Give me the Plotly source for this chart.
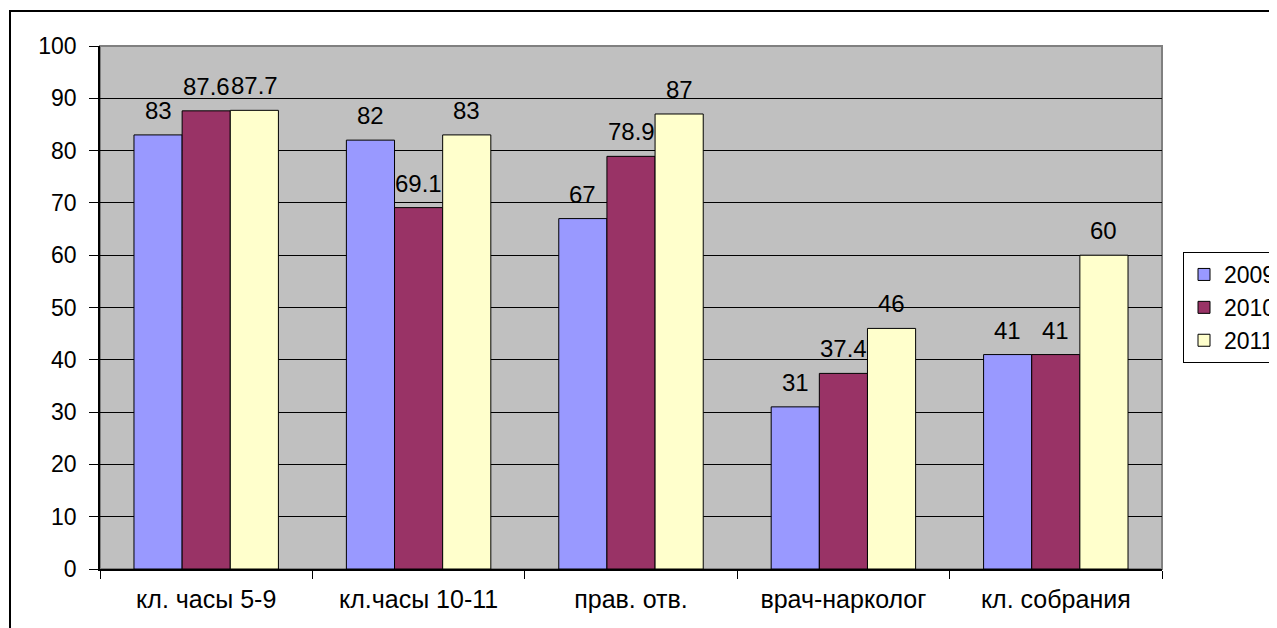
import plotly.graph_objects as go

categories = ["кл. часы 5-9", "кл.часы 10-11", "прав. отв.", "врач-нарколог", "кл. собрания"]
years = ["2009", "2010", "2011"]
v2009 = [83, 82, 67, 31, 41]
v2010 = [87.6, 69.1, 78.9, 37.4, 41]
v2011 = [87.7, 83, 87, 46, 60]
colors = ["#9999FF", "#993366", "#FFFFCC"]
yticks = list(range(0, 101, 10))

W, H = 1277, 628
OFF = 8  # page body margin
L, R, T, B = 100 - OFF, 1162 - OFF, 46 - OFF, 569 - OFF
FS = 23
BARGAP = 0.32

fig = go.Figure()
series = [v2009, v2010, v2011]
for name, vals, col in zip(years, series, colors):
    fig.add_trace(go.Bar(
        x=categories, y=vals, name=name,
        marker=dict(color=col, line=dict(color="black", width=1)),
    ))

pw, ph = R - L, B - T
def px(x):
    return (x - OFF - L) / pw
def py(y):
    return (B - (y - OFF)) / ph

bar_px = pw / len(categories) * (1 - BARGAP) / len(series)
annotations = []
for i, vals in enumerate(series):
    for cat, v in zip(categories, vals):
        annotations.append(dict(
            x=cat, y=v, xref="x", yref="y", text=f"{v:g}", showarrow=False,
            xanchor="center", yanchor="bottom", xshift=(i - 1) * bar_px, yshift=9,
            font=dict(family="Liberation Sans, Arial", size=FS + 1, color="black"),
        ))

fig.update_layout(
    width=W, height=H,
    margin=dict(l=L, r=W - R, t=T, b=H - B, autoexpand=False),
    paper_bgcolor="white", plot_bgcolor="#C0C0C0",
    barmode="group", bargap=BARGAP, bargroupgap=0,
    font=dict(family="Liberation Sans, Arial", size=FS, color="black"),
    legend=dict(x=px(1183), y=py(252), xanchor="left", yanchor="top",
                bgcolor="white", bordercolor="black", borderwidth=1,
                font=dict(size=FS), tracegroupgap=0, itemwidth=30),
    showlegend=True,
    annotations=annotations,
    xaxis=dict(showline=True, linecolor="black", linewidth=1.5,
               ticks="outside", tickson="boundaries", ticklen=8, tickcolor="black",
               showgrid=False, ticklabelstandoff=7, tickfont=dict(size=25)),
    yaxis=dict(range=[0, 100], tickvals=yticks, showline=True, linecolor="black", linewidth=1.5,
               ticks="outside", ticklen=9, tickcolor="black",
               showgrid=True, gridcolor="black", gridwidth=1, zeroline=False,
               ticklabelstandoff=8, tickfont=dict(size=FS)),
    shapes=[
        dict(type="rect", xref="paper", yref="paper", x0=0, x1=1, y0=0, y1=1,
             line=dict(color="#808080", width=2), layer="below"),
        dict(type="rect", xref="paper", yref="paper", x0=px(10), x1=px(1300), y0=py(650), y1=py(11),
             line=dict(color="black", width=2)),
    ],
)

fig.write_html("out.html")
